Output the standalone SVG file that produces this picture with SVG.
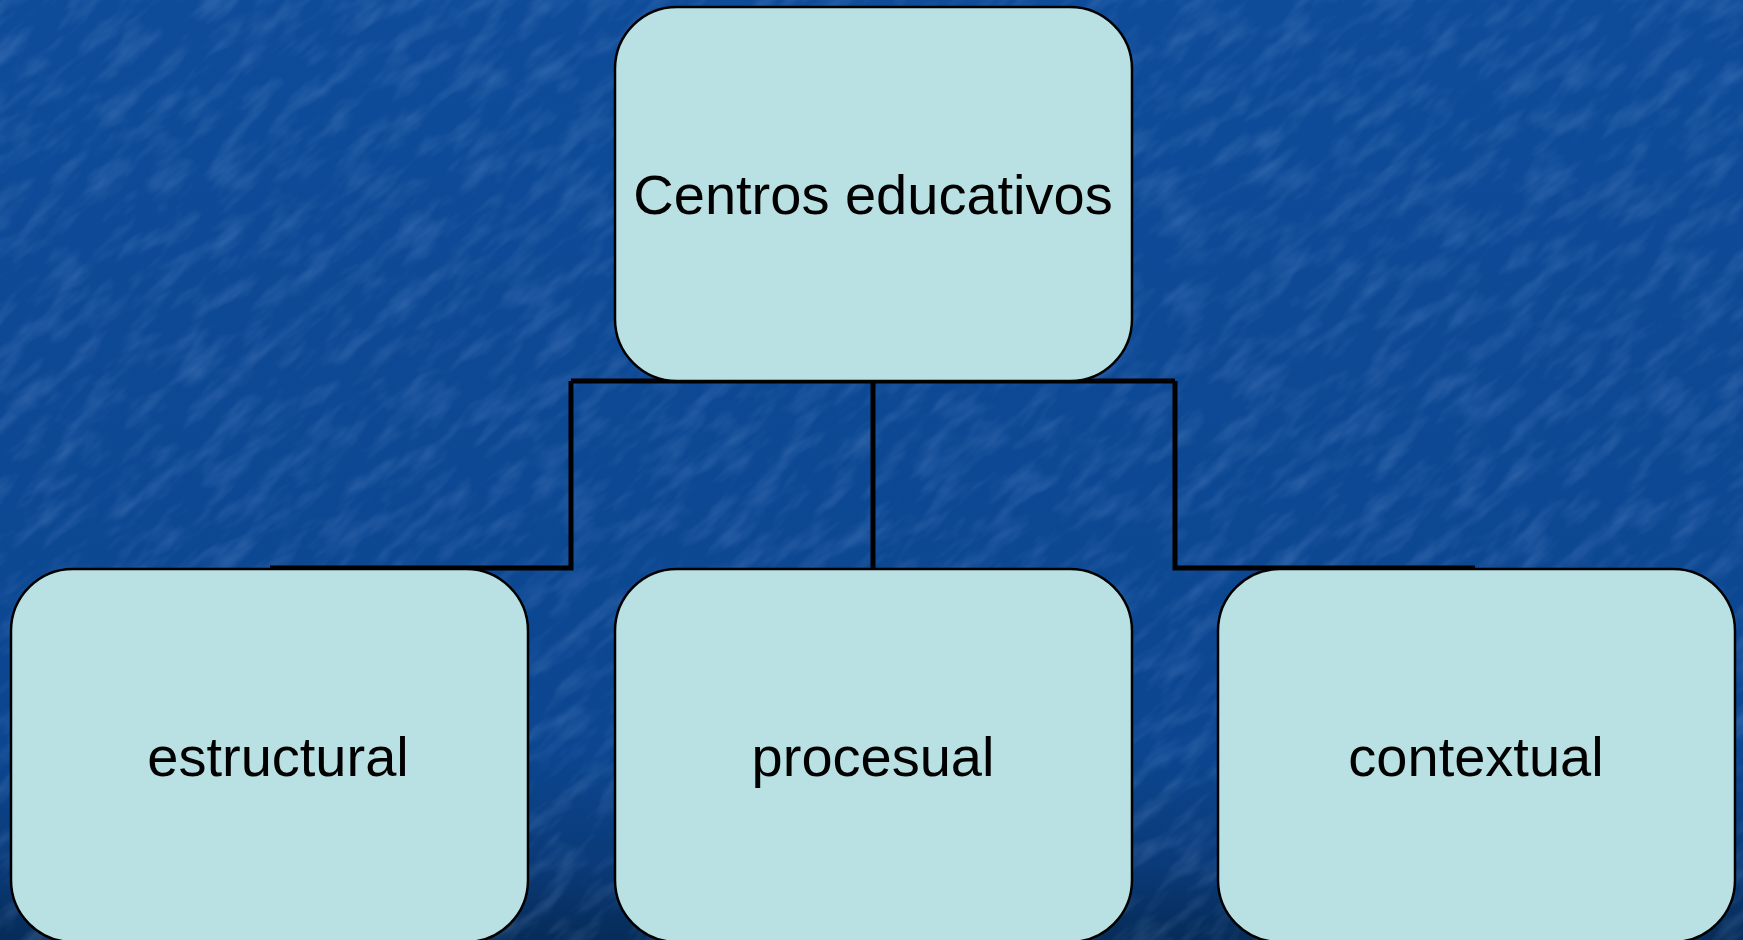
<svg xmlns="http://www.w3.org/2000/svg" width="1743" height="940" viewBox="0 0 1743 940">
  <defs>
    <linearGradient id="bgGrad" x1="0" y1="0" x2="0" y2="1">
      <stop offset="0" stop-color="#0e4b99"/>
      <stop offset="0.8" stop-color="#0c4690"/>
      <stop offset="0.92" stop-color="#0a3a78"/>
      <stop offset="1" stop-color="#062c58"/>
    </linearGradient>
    <filter id="tex" x="0" y="0" width="100%" height="100%">
      <feTurbulence type="fractalNoise" baseFrequency="0.02 0.06" numOctaves="3" seed="7" result="n"/>
      <feColorMatrix in="n" type="matrix" values="0 0 0 0 0.3  0 0 0 0 0.5  0 0 0 0 0.85  0 0 0 1.4 -0.6" result="c"/>
      <feComposite in="c" in2="SourceGraphic" operator="in"/>
    </filter>
    <style>
      .node { fill: #b9e0e3; stroke: #000000; stroke-width: 2.5; }
      .label { font-family: "Liberation Sans", Arial, sans-serif; font-size: 56px; fill: #000000; text-anchor: middle; }
      .conn { fill: none; stroke: #000000; stroke-width: 5; stroke-linejoin: miter; }
    </style>
  </defs>

  <rect x="0" y="0" width="1743" height="940" fill="url(#bgGrad)"/>
  <g transform="rotate(-40 871 470)" opacity="0.3">
    <rect x="-600" y="-600" width="2943" height="2140" fill="#0f4d9c" filter="url(#tex)"/>
  </g>

  <g id="connectors">
    <path class="conn" d="M873,381 L873,568"/>
    <path class="conn" d="M571,381 L1175,381"/>
    <path class="conn" d="M571,381 L571,568 L270,568"/>
    <path class="conn" d="M1175,381 L1175,568 L1475,568"/>
  </g>

  <g id="node-centros">
    <rect class="node" x="615" y="7" width="517" height="374" rx="62" ry="62"/>
    <text class="label" x="873" y="214">Centros educativos</text>
  </g>
  <g id="node-estructural">
    <rect class="node" x="11" y="569" width="517" height="373" rx="62" ry="62"/>
    <text class="label" x="278" y="776">estructural</text>
  </g>
  <g id="node-procesual">
    <rect class="node" x="615" y="569" width="517" height="373" rx="62" ry="62"/>
    <text class="label" x="873" y="776">procesual</text>
  </g>
  <g id="node-contextual">
    <rect class="node" x="1218" y="569" width="517" height="373" rx="62" ry="62"/>
    <text class="label" x="1476" y="776">contextual</text>
  </g>
</svg>
